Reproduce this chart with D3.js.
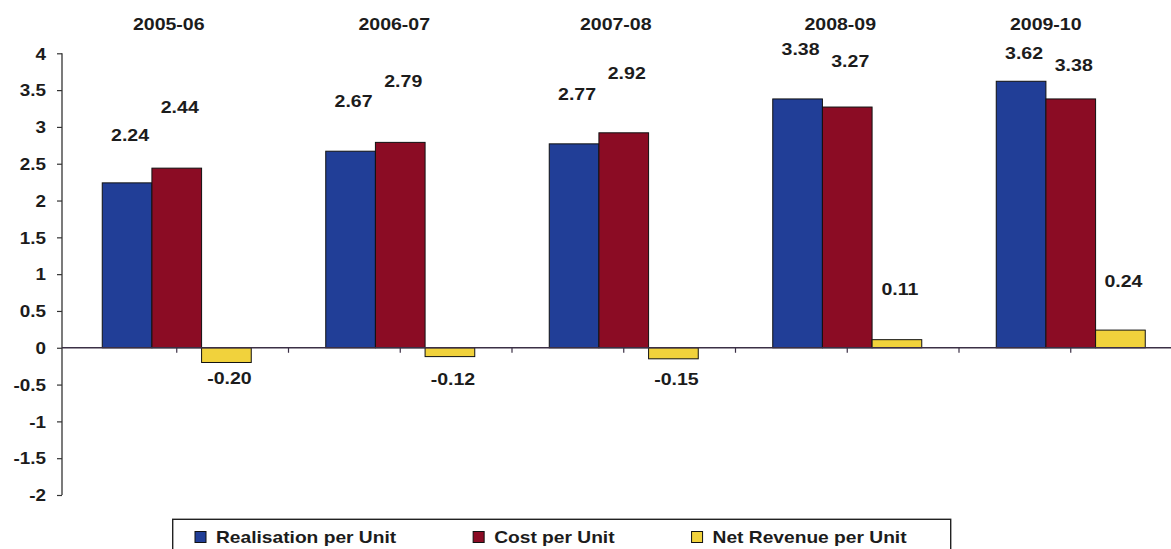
<!DOCTYPE html>
<html>
<head>
<meta charset="utf-8">
<script src="https://cdn.jsdelivr.net/npm/d3@7"></script>
<style>
  html, body { margin: 0; padding: 0; background: #fff; }
  svg { display: block; }
  text { font-family: "Liberation Sans", Arial, Helvetica, sans-serif; font-weight: bold; fill: #1c1c1c; }
</style>
</head>
<body>
<svg id="chart" width="1171" height="549"></svg>
<script>
// Per-unit realisation, cost and net revenue by year
const years = ["2005-06", "2006-07", "2007-08", "2008-09", "2009-10"];
const realisation = [2.24, 2.67, 2.77, 3.38, 3.62];
const cost = [2.44, 2.79, 2.92, 3.27, 3.38];
const netRevenue = [-0.20, -0.12, -0.15, 0.11, 0.24];
const seriesNames = ["Realisation per Unit", "Cost per Unit", "Net Revenue per Unit"];
const yTicks = [-2, -1.5, -1, -0.5, 0, 0.5, 1, 1.5, 2, 2.5, 3, 3.5, 4];

// Presentation settings
const colors = ["#213e97", "#8b0c24", "#f1d23c"];
const labelLift = [            // gap (px) between bar end and its value label
  [48, 50, 50, 50, 28],
  [61, 62, 60, 46, 34],
  [15, 22, 20, 51, 49]
];
const yearShift = [-8, -6, -8, -7, -25]; // horizontal shift of the year captions
const stretch = 1.15;                    // horizontal stretch applied to all text

const svg = d3.select("#chart");
const series = [realisation, cost, netRevenue];

const y = d3.scaleLinear().domain([-2, 4]).range([495, 53.3]);
const x0 = d3.scaleBand().domain(years).range([65, 1182.5])
  .paddingInner(1 / 3).paddingOuter(1 / 6);
const x1 = d3.scaleBand().domain(d3.range(series.length)).range([0, x0.bandwidth()]);

function stretchedText(g, x, yPos, str, size, anchor) {
  return g.append("text")
    .attr("transform", `translate(${x},${yPos}) scale(${stretch},1)`)
    .attr("text-anchor", anchor || "middle")
    .attr("dy", "0.36em")
    .style("font-size", size + "px")
    .text(str);
}

// Y axis
const axisX = 62;
const yAxis = svg.append("g")
  .attr("transform", `translate(${axisX},0)`)
  .call(d3.axisLeft(y).tickValues(yTicks).tickSize(5).tickFormat(d => String(d)));
yAxis.select(".domain").attr("stroke", "#333").attr("stroke-width", 1.3).attr("d", `M0,${y(4)}V${y(-2)}`);
yAxis.selectAll(".tick line").attr("stroke", "#333").attr("stroke-width", 1.2);
yAxis.selectAll(".tick text")
  .attr("x", null).attr("dy", "0.36em")
  .attr("transform", `translate(-16,0) scale(${stretch + 0.03},1)`)
  .style("font-size", "16px").style("font-family", "'Liberation Sans', Arial, sans-serif")
  .style("font-weight", "bold").attr("fill", "#1c1c1c");

// Bars
const groups = svg.append("g").selectAll("g")
  .data(years).join("g")
  .attr("transform", d => `translate(${x0(d)},0)`);

groups.selectAll("rect")
  .data((d, i) => series.map((s, k) => ({ k, v: s[i], i })))
  .join("rect")
  .attr("x", d => x1(d.k))
  .attr("width", x1.bandwidth())
  .attr("y", d => y(Math.max(0, d.v)))
  .attr("height", d => Math.abs(y(d.v) - y(0)))
  .attr("fill", d => colors[d.k])
  .attr("stroke", "#111")
  .attr("stroke-width", 1);

// Zero line with category ticks
const zeroY = y(0);
svg.append("line")
  .attr("x1", axisX).attr("x2", 1171)
  .attr("y1", zeroY).attr("y2", zeroY)
  .attr("stroke", "#3b2f45").attr("stroke-width", 1.5);

const step = x0.step();
const tickXs = [];
years.forEach((d, i) => {
  if (i > 0) tickXs.push(x0(d) - step * x0.paddingInner() / 2);
  tickXs.push(x0(d) + x0.bandwidth() / 2);
});
svg.append("g").selectAll("line").data(tickXs).join("line")
  .attr("x1", d => d).attr("x2", d => d)
  .attr("y1", zeroY).attr("y2", zeroY + 5)
  .attr("stroke", "#3b2f45").attr("stroke-width", 1.2);

// Value labels
const labels = svg.append("g");
series.forEach((s, k) => {
  s.forEach((v, i) => {
    const cx = x0(years[i]) + x1(k) + x1.bandwidth() / 2 + 3;
    const cy = v >= 0 ? y(v) - labelLift[k][i] : y(v) + labelLift[k][i];
    stretchedText(labels, cx, cy, v.toFixed(2), 17);
  });
});

// Year captions
const caps = svg.append("g");
years.forEach((d, i) => {
  stretchedText(caps, x0(d) + x0.bandwidth() / 2 + yearShift[i], 23.5, d, 17);
});

// Legend
const legend = svg.append("g");
legend.append("rect")
  .attr("x", 172.7).attr("y", 519.3)
  .attr("width", 778).attr("height", 45)
  .attr("fill", "#fff").attr("stroke", "#222").attr("stroke-width", 1.4);
let lx = 195;
const ly = 537;
seriesNames.forEach((name, k) => {
  legend.append("rect")
    .attr("x", lx).attr("y", ly - 5.5)
    .attr("width", 11).attr("height", 11)
    .attr("fill", colors[k]).attr("stroke", "#111").attr("stroke-width", 1);
  const t = legend.append("text")
    .attr("transform", `translate(${lx + 21},${ly}) scale(1.2,1)`)
    .attr("dy", "0.36em")
    .style("font-size", "16px")
    .text(name);
  const w = t.node().getComputedTextLength() * 1.2;
  lx += 21 + w + 77;
});
</script>
</body>
</html>
